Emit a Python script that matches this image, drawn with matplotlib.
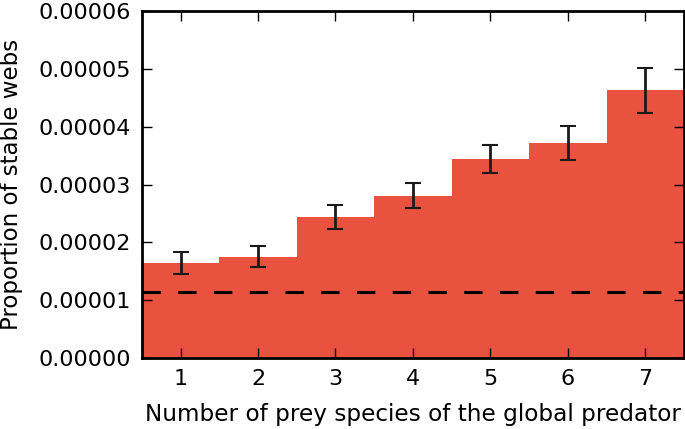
import numpy as np
import matplotlib
matplotlib.use("Agg")
import matplotlib.pyplot as plt

# values
n_prey = [1, 2, 3, 4, 5, 6, 7]
proportion = [1.645e-5, 1.75e-5, 2.445e-5, 2.81e-5, 3.445e-5, 3.72e-5, 4.63e-5]
err = [0.185e-5, 0.18e-5, 0.205e-5, 0.215e-5, 0.245e-5, 0.29e-5, 0.39e-5]
baseline = 1.147e-5

y_ticks = [0, 1e-5, 2e-5, 3e-5, 4e-5, 5e-5, 6e-5]

BAR_COLOR = "#E8523F"

fig = plt.figure(figsize=(6.85, 4.29), dpi=100)
ax = fig.add_axes([0.207, 0.1655, 0.7915, 0.8085])

ax.bar(n_prey, proportion, width=1.0, color=BAR_COLOR, edgecolor="none", zorder=1)
ax.errorbar(n_prey, proportion, yerr=err, fmt="none", ecolor="#1a1a1a",
            elinewidth=2, capsize=6, capthick=1.5, zorder=3)
line = ax.axhline(baseline, color="black", linewidth=2.2, zorder=2)
line.set_dashes((6, 5.7))

ax.set_xlim(0.5, 7.5)
ax.set_ylim(0, 6e-5)
ax.set_xticks(n_prey)
ax.set_yticks(y_ticks)
ax.set_yticklabels([f"{v:.5f}" for v in y_ticks])

ax.tick_params(direction="in", length=7, width=1, top=True, right=True,
               labelsize=16, pad=8)
for s in ax.spines.values():
    s.set_linewidth(2)

ax.set_xlabel("Number of prey species of the global predator", fontsize=16.7, labelpad=10)
ax.set_ylabel("Proportion of stable webs", fontsize=16.5, labelpad=11)

fig.savefig("out.png", dpi=100)
